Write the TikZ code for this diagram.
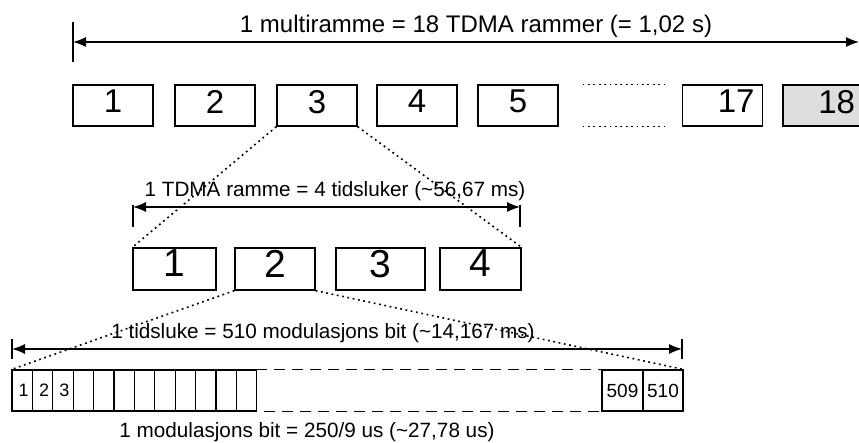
\documentclass[tikz,border=0pt]{standalone}
\usepackage{fontspec}
\setmainfont{Liberation Sans}
\usetikzlibrary{arrows.meta}
\tikzset{
	rammebox/.style={draw, line width=1.3pt, minimum width=80pt, minimum height=41pt, inner sep=0pt, text depth=8pt, font=\fontsize{33}{33}\selectfont},
	slotbox/.style={rammebox, minimum height=42pt, text depth=11pt, font=\fontsize{39}{39}\selectfont},
	rightnum/.style={text width=64pt, align=right, inner xsep=8pt},
	bitbox/.style={draw, line width=1.1pt, minimum width=20.4pt, minimum height=41pt, inner sep=0pt, font=\fontsize{18}{18}\selectfont},
	bignum/.style={font=\fontsize{19}{19}\selectfont},
	zoomline/.style={line width=1.6pt, dash pattern=on 1.8pt off 3.6pt},
	gapline/.style={line width=1.1pt, dash pattern=on 11pt off 7pt, dash phase=11pt},
	spanarrow/.style={line width=1.3pt, {Latex[length=13pt,width=10pt]}-{Latex[length=13pt,width=10pt]}},
	endtick/.style={line width=1.3pt},
	lbl/.style={anchor=base, inner sep=0pt, font=\fontsize{20.7}{22}\selectfont}
}

\begin{document}
\begin{tikzpicture}[x=1pt,y=-1pt]
	\useasboundingbox (0,0) rectangle (859,443);
	
	\node[lbl, font=\fontsize{24}{24}\selectfont] (multi) at (476,33) {1 multiramme = 18 TDMA rammer (= 1,02 s)};
	\coordinate (mL) at (73,42);
	\coordinate (mR) at (859,42);
	\draw[spanarrow] (mL) -- (mR);
	\draw[endtick] ([yshift=20pt]mL) -- ([yshift=-20pt]mL);
	
	\foreach \n/\x in {1/113,2/215,3/317,4/417,5/518}
		\node[rammebox] (r\n) at (\x,105.5) {\n};
	\node[rammebox, rightnum] (r17) at (722.5,105.5) {17};
	\node[rammebox, rightnum, fill=black!13] (r18) at (823,105.5) {18};
	\draw[zoomline] ([xshift=24pt]r5.north east) -- ([xshift=-14pt]r17.north west);
	\draw[zoomline] ([xshift=24pt]r5.south east) -- ([xshift=-14pt]r17.south west);
	
	\node[lbl] (tdma) at (335,197) {1 TDMA ramme = 4 tidsluker (\textasciitilde 56,67 ms)};
	\coordinate (tL) at (133,207);
	\coordinate (tR) at (520,207);
	\draw[spanarrow] (tL) -- (tR);
	\draw[endtick] ([yshift=2pt]tL) -- ([yshift=-20pt]tL);
	\draw[endtick] ([yshift=2pt]tR) -- ([yshift=-20pt]tR);
	
	\foreach \n/\x/\w in {1/174.5/83,2/275/80,3/380.5/89,4/480.5/81}
		\node[slotbox, minimum width=\w pt] (s\n) at (\x,269) {\n};
	
	\draw[zoomline] (r3.south west) -- (s1.north west);
	\draw[zoomline] (r3.south east) -- (s4.north east);
	
	\node[lbl] (slot) at (323,338) {1 tidsluke = 510 modulasjons bit (\textasciitilde 14,167 ms)};
	\coordinate (bL) at (12,349);
	\coordinate (bR) at (682,349);
	\draw[spanarrow] (bL) -- (bR);
	\draw[endtick] ([yshift=10pt]bL) -- ([yshift=-10pt]bL);
	\draw[endtick] ([yshift=10pt]bR) -- ([yshift=-10pt]bR);
	
	\foreach \i in {1,...,12}
		\node[bitbox] (b\i) at ({22.2+(\i-1)*20.4},390.5) {\ifnum\i<4 \hspace*{3pt}\i\fi};
	\node[bitbox, bignum, minimum width=41pt] (b509) at (622.5,390.5) {509};
	\node[bitbox, bignum, minimum width=40pt] (b510) at (663,390.5) {510};
	\draw[line width=1.1pt] (b12.north east) -- ++(10,0) coordinate (g1);
	\draw[gapline] (g1) -- (b509.north west);
	\draw[gapline] (b12.south east) -- (b509.south west);
	
	\draw[zoomline] (s2.south west) -- (b1.north west);
	\draw[zoomline] (s2.south east) -- (b510.north east);
	
	\node[lbl] (bit) at (307,437) {1 modulasjons bit = 250/9 us (\textasciitilde 27,78 us)};
\end{tikzpicture}
\end{document}
